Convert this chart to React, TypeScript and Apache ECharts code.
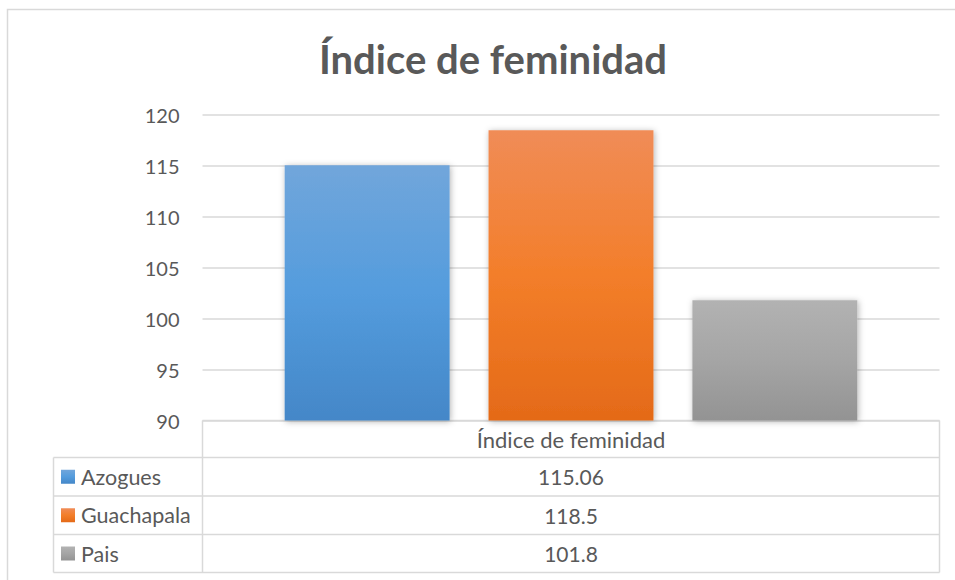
import React, { useEffect, useRef } from "react";
import * as echarts from "echarts";

const categories = ["Índice de feminidad"];
const seriesNames = ["Azogues", "Guachapala", "Pais"];
const azogues = [115.06];
const guachapala = [118.5];
const pais = [101.8];
const seriesValues = [azogues, guachapala, pais];
const yMin = 90;
const yMax = 120;
const yStep = 5;

const palettes = [
  ["#71a6db", "#549cdd", "#4487c8"],
  ["#f08c57", "#f37e2a", "#e46a18"],
  ["#b2b2b2", "#a5a5a5", "#939393"],
];

const grad = (p: string[]) =>
  new echarts.graphic.LinearGradient(0, 0, 0, 1, [
    { offset: 0, color: p[0] },
    { offset: 0.5, color: p[1] },
    { offset: 1, color: p[2] },
  ]);

const FONT = "Lato, 'Open Sans', sans-serif";
const TXT = "#595959";
const LINE = "#d9d9d9";

export default function App() {
  const ref = useRef<HTMLDivElement>(null);
  useEffect(() => {
    if (!ref.current) return;
    const chart = echarts.init(ref.current, undefined, { renderer: "svg" });

    const tLeft = 53.5;
    const tDiv = 202.5;
    const tRight = 939.5;
    const tTop = 420.5;
    const rowLines = [457.5, 496, 534.5, 572.5];
    const lineStyle = { stroke: LINE, lineWidth: 1.5 };

    const graphics: any[] = [];
    graphics.push({
      type: "rect",
      shape: { x: 7.5, y: 9.5, width: 980, height: 600 },
      style: { fill: "none", stroke: LINE, lineWidth: 1.5 },
      silent: true,
    });
    graphics.push({ type: "line", shape: { x1: tDiv, y1: tTop, x2: tRight, y2: tTop }, style: lineStyle });
    rowLines.forEach((y) =>
      graphics.push({ type: "line", shape: { x1: tLeft, y1: y, x2: tRight, y2: y }, style: lineStyle })
    );
    graphics.push({ type: "line", shape: { x1: tDiv, y1: tTop, x2: tDiv, y2: rowLines[3] }, style: lineStyle });
    graphics.push({ type: "line", shape: { x1: tRight, y1: tTop, x2: tRight, y2: rowLines[3] }, style: lineStyle });
    graphics.push({ type: "line", shape: { x1: tLeft, y1: rowLines[0], x2: tLeft, y2: rowLines[3] }, style: lineStyle });

    const midX = (tDiv + tRight) / 2;
    graphics.push({
      type: "text",
      x: midX,
      y: (tTop + rowLines[0]) / 2,
      style: { text: categories[0], font: `22px ${FONT}`, fill: TXT, align: "center", verticalAlign: "middle" },
    });
    seriesNames.forEach((name, i) => {
      const cy = (rowLines[i] + rowLines[i + 1]) / 2;
      graphics.push({
        type: "rect",
        shape: { x: 61, y: cy - 7, width: 14, height: 14 },
        style: { fill: grad(palettes[i]) },
      });
      graphics.push({
        type: "text",
        x: 81,
        y: cy,
        style: { text: name, font: `21.5px ${FONT}`, fill: TXT, align: "left", verticalAlign: "middle" },
      });
      graphics.push({
        type: "text",
        x: midX,
        y: cy,
        style: { text: String(seriesValues[i][0]), font: `21px ${FONT}`, fill: TXT, align: "center", verticalAlign: "middle" },
      });
    });

    chart.setOption({
      animation: false,
      backgroundColor: "#ffffff",
      title: {
        text: "Índice de feminidad",
        left: 488,
        textAlign: "center",
        top: 34,
        textStyle: { fontFamily: FONT, fontWeight: "bold", fontSize: 40, color: TXT },
      },
      grid: { left: 202.5, right: 955 - 939.5, top: 115, bottom: 580 - 420.5 },
      xAxis: {
        type: "category",
        data: categories,
        axisLine: { show: false },
        axisTick: { show: false },
        axisLabel: { show: false },
      },
      yAxis: {
        type: "value",
        min: yMin,
        max: yMax,
        interval: yStep,
        axisLine: { show: false },
        axisTick: { show: false },
        axisLabel: { color: TXT, fontSize: 20, fontFamily: FONT, margin: 23 },
        splitLine: { lineStyle: { color: LINE, width: 1.5 } },
      },
      series: seriesNames.map((name, i) => ({
        type: "bar",
        name,
        data: seriesValues[i],
        barGap: "23.6%",
        barCategoryGap: "22.3%",
        itemStyle: {
          color: grad(palettes[i]),
          shadowBlur: 6,
          shadowColor: "rgba(0,0,0,0.3)",
          shadowOffsetX: 1,
          shadowOffsetY: 1,
        },
      })),
      graphic: graphics,
    });
    return () => chart.dispose();
  }, []);
  return (
    <div
      ref={ref}
      style={{ position: "fixed", left: 0, top: 0, width: 955, height: 580 }}
    />
  );
}
